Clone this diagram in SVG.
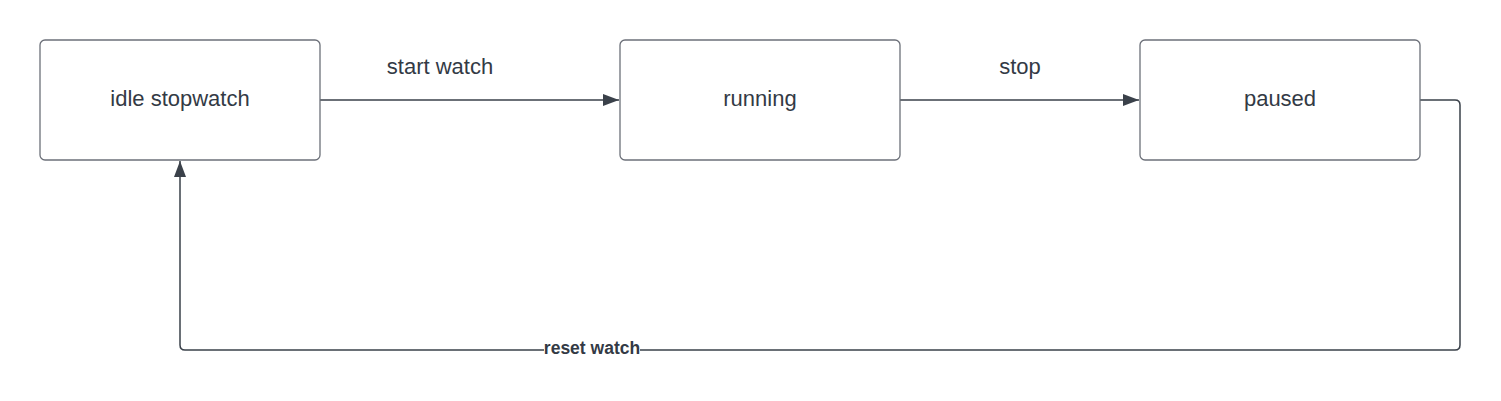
<svg xmlns="http://www.w3.org/2000/svg" width="1501" height="401" viewBox="0 0 1501 401">
<style>
.node{fill:#ffffff;stroke:#6c7079;stroke-width:1.3}
.nt{font-family:"Liberation Sans",Arial,sans-serif;font-size:22px;fill:#333a45;text-anchor:middle}
.edge{fill:none;stroke:#3a414a;stroke-width:1.5}
.lbl{font-family:"Liberation Sans",Arial,sans-serif;font-size:22px;fill:#333a45;text-anchor:middle}
.lblb{font-family:"Liberation Sans",Arial,sans-serif;font-size:17.5px;font-weight:bold;fill:#333a45;text-anchor:middle}
</style>
<defs>
<marker id="arr" viewBox="0 0 16 12" refX="16" refY="6" markerWidth="16" markerHeight="12" markerUnits="userSpaceOnUse" orient="auto">
<path d="M0,0 L16,6 L0,12 Z" fill="#3a414a"/>
</marker>
</defs>
<rect width="1501" height="401" fill="#ffffff"/>
<g id="connectors">
<path class="edge" d="M320,100 H619" marker-end="url(#arr)"/>
<path class="edge" d="M900,100 H1139" marker-end="url(#arr)"/>
<path class="edge" d="M1420,100 H1455 Q1460,100 1460,105 V345 Q1460,350 1455,350 H185 Q180,350 180,345 V161" marker-end="url(#arr)"/>
<text class="lbl" x="440" y="74">start watch</text>
<text class="lbl" x="1020" y="74">stop</text>
<rect x="544" y="340" width="96" height="18" fill="#ffffff"/>
<text class="lblb" x="592" y="354">reset watch</text>
</g>
<g id="idle">
<rect class="node" x="40" y="40" width="280" height="120" rx="5"/>
<text class="nt" x="180" y="106">idle stopwatch</text>
</g>
<g id="running">
<rect class="node" x="620" y="40" width="280" height="120" rx="5"/>
<text class="nt" x="760" y="106">running</text>
</g>
<g id="paused">
<rect class="node" x="1140" y="40" width="280" height="120" rx="5"/>
<text class="nt" x="1280" y="106">paused</text>
</g>
</svg>
